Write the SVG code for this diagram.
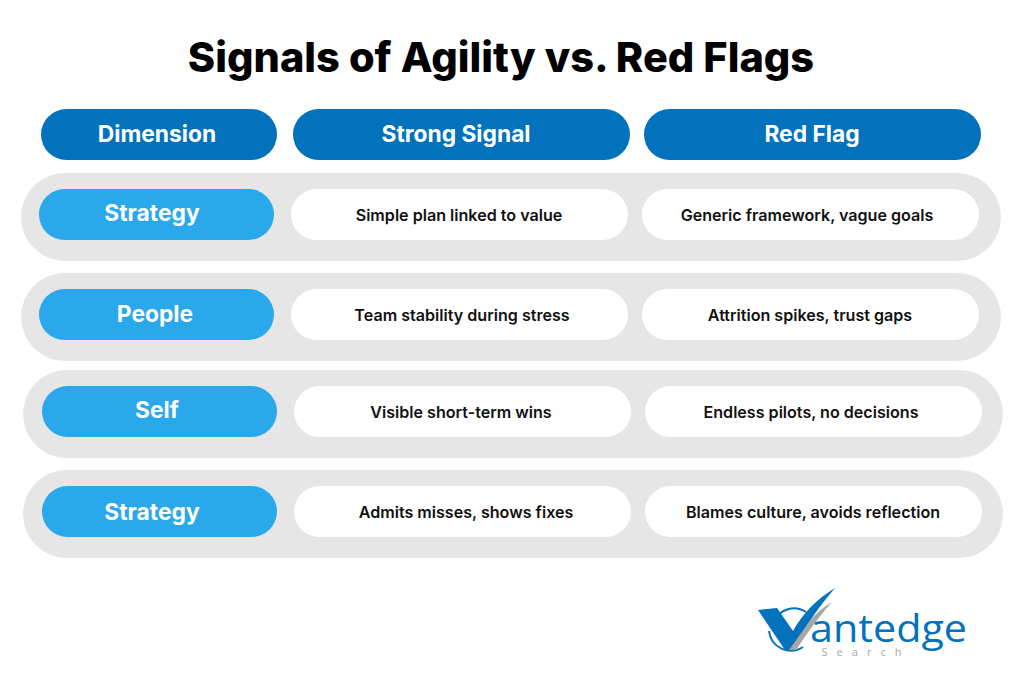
<svg xmlns="http://www.w3.org/2000/svg" width="1024" height="682" viewBox="0 0 1024 682">
<style>
text{font-family:"Inter","Liberation Sans",sans-serif;text-anchor:middle}
.t{font-weight:800;font-size:41.5px;fill:#000}
.h{fill:#0272bd}
.d{fill:#29a8eb}
.b{fill:#e6e6e6}
.w{fill:#fff}
.l{font-weight:700;font-size:22.8px;fill:#fff}
.c{font-weight:600;font-size:16.1px;fill:#111}
</style>
<rect width="1024" height="682" fill="#fff"/>
<text class="t" x="501" y="72">Signals of Agility vs. Red Flags</text>
<g id="header"><rect class="h" x="41" y="109" width="236" height="51" rx="25.5"/><text class="l" x="157" y="142">Dimension</text>
<rect class="h" x="293" y="109" width="337" height="51" rx="25.5"/><text class="l" x="456" y="142">Strong Signal</text>
<rect class="h" x="644" y="109" width="337" height="51" rx="25.5"/><text class="l" x="812" y="142">Red Flag</text></g>
<g id="row1"><rect class="b" x="21" y="173" width="980" height="88" rx="44"/><rect class="d" x="39" y="189" width="235" height="51" rx="25.5"/><text class="l" x="152" y="221">Strategy</text>
<rect class="w" x="291" y="189" width="337" height="51" rx="25.5"/><text class="c" x="459" y="221">Simple plan linked to value</text>
<rect class="w" x="642" y="189" width="337" height="51" rx="25.5"/><text class="c" x="807" y="221">Generic framework, vague goals</text></g>
<g id="row2"><rect class="b" x="21" y="273" width="980" height="88" rx="44"/><rect class="d" x="39" y="289" width="235" height="51" rx="25.5"/><text class="l" x="155" y="322">People</text>
<rect class="w" x="291" y="289" width="337" height="51" rx="25.5"/><text class="c" x="462" y="321">Team stability during stress</text>
<rect class="w" x="642" y="289" width="337" height="51" rx="25.5"/><text class="c" x="810" y="321">Attrition spikes, trust gaps</text></g>
<g id="row3"><rect class="b" x="23" y="370" width="980" height="88" rx="44"/><rect class="d" x="42" y="386" width="235" height="51" rx="25.5"/><text class="l" x="157" y="418">Self</text>
<rect class="w" x="294" y="386" width="337" height="51" rx="25.5"/><text class="c" x="461" y="418">Visible short-term wins</text>
<rect class="w" x="645" y="386" width="337" height="51" rx="25.5"/><text class="c" x="811" y="418">Endless pilots, no decisions</text></g>
<g id="row4"><rect class="b" x="23" y="470" width="980" height="88" rx="44"/><rect class="d" x="42" y="486" width="235" height="51" rx="25.5"/><text class="l" x="152" y="520">Strategy</text>
<rect class="w" x="294" y="486" width="337" height="51" rx="25.5"/><text class="c" x="466" y="518">Admits misses, shows fixes</text>
<rect class="w" x="645" y="486" width="337" height="51" rx="25.5"/><text class="c" x="813" y="518">Blames culture, avoids reflection</text></g>
<g id="logo">
<path d="M774 621 A22 22 0 0 1 806 612" fill="none" stroke="#0272bd" stroke-width="2"/>
<path d="M769 631 A22 22 0 0 0 803 647" fill="none" stroke="#0272bd" stroke-width="2"/>
<path d="M788 650 C800 630 815 612 832 602 C820 615 808 632 796 650 Z" fill="#a6a6a6"/>
<path d="M758 610 L777 608 L793 631 C802 615 815 600 835 588 C820 605 805 628 789 650 L785 650 Z" fill="#0272bd"/>
<text x="888.5" y="642" font-size="39" font-weight="400" fill="#0272bd" textLength="157" lengthAdjust="spacingAndGlyphs" style="font-family:'Open Sans',sans-serif">antedge</text>
<text x="866" y="656" font-size="11" letter-spacing="9" fill="#a9a9a9" style="font-family:'Open Sans',sans-serif">Search</text></g>
</svg>
